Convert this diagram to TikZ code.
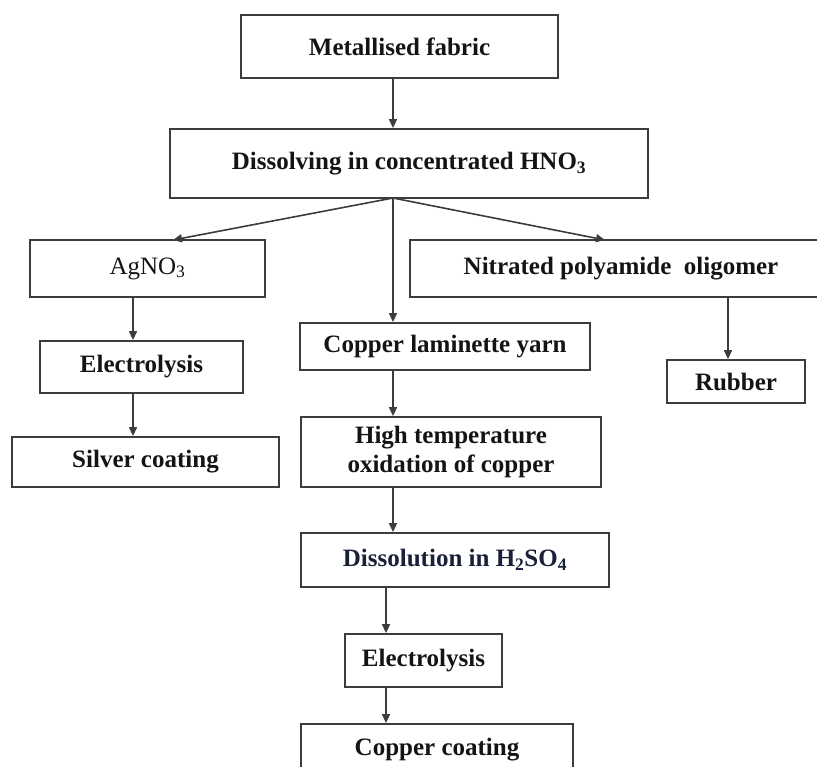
\documentclass[tikz,border=0pt]{standalone}
\usepackage{fontspec}
\setmainfont{Liberation Serif}
\usetikzlibrary{arrows.meta}
\definecolor{edge}{HTML}{3C3C3C}
\definecolor{ink}{HTML}{141414}
\definecolor{navy}{HTML}{1A2038}
\begin{document}
\begin{tikzpicture}[x=1pt,y=-1pt,
  box/.style={draw=edge,line width=1.8pt,rectangle,inner sep=0pt,
    text=ink,font=\fontsize{25}{29}\selectfont\bfseries,align=center},
  arr/.style={draw=edge,line width=1.6pt,-{Triangle[length=9pt,width=8pt]}}]
\useasboundingbox (0,0) rectangle (817,767);
\clip (0,0) rectangle (817,767);
\node[box,minimum width=317pt,minimum height=63pt] (mf) at (399.5,46.5) {Metallised fabric};
\node[box,minimum width=478pt,minimum height=69pt] (hno) at (409,163.5) {Dissolving in concentrated HNO\textsubscript{3}};
\node[box,minimum width=235pt,minimum height=57pt,font=\fontsize{25}{29}\selectfont] (ag) at (147.5,268.5) {AgNO\textsubscript{3}};
\node[box,minimum width=422pt,minimum height=57pt] (nit) at (621,268.5) {Nitrated polyamide\ \ oligomer};
\node[box,minimum width=203pt,minimum height=52pt] (el1) at (141.5,367) {Electrolysis};
\node[box,minimum width=290pt,minimum height=47pt] (cu) at (445,346.5) {Copper laminette yarn};
\node[box,minimum width=138pt,minimum height=43pt] (rub) at (736,381.5) {Rubber};
\node[box,minimum width=267pt,minimum height=50pt] (sil) at (145.5,462) {Silver coating};
\node[box,minimum width=300pt,minimum height=70pt] (ht) at (451,452) {High temperature\\oxidation of copper};
\node[box,minimum width=308pt,minimum height=54pt,text=navy] (dis) at (455,560) {Dissolution in H\textsubscript{2}SO\textsubscript{4}};
\node[box,minimum width=157pt,minimum height=53pt] (el2) at (423.5,660.5) {Electrolysis};
\node[box,minimum width=272pt,minimum height=51pt] (cc) at (437,749.5) {Copper coating};
% connector positions
\coordinate (fan) at (393,198);
\coordinate (agtip) at (173,240);
\coordinate (nittip) at (605,240);
\coordinate (colA) at (133,0);
\coordinate (colB) at (393,0);
\coordinate (colC) at (728,0);
\coordinate (colD) at (386,0);
\draw[arr] (colB |- mf.south) -- (colB |- hno.north);
\draw[arr] (fan) -- (agtip);
\draw[arr] (fan) -- (nittip);
\draw[arr] (fan) -- (colB |- cu.north);
\draw[arr] (colA |- ag.south) -- (colA |- el1.north);
\draw[arr] (colA |- el1.south) -- (colA |- sil.north);
\draw[arr] (colC |- nit.south) -- (colC |- rub.north);
\draw[arr] (colB |- cu.south) -- (colB |- ht.north);
\draw[arr] (colB |- ht.south) -- (colB |- dis.north);
\draw[arr] (colD |- dis.south) -- (colD |- el2.north);
\draw[arr] (colD |- el2.south) -- (colD |- cc.north);
\end{tikzpicture}
\end{document}
